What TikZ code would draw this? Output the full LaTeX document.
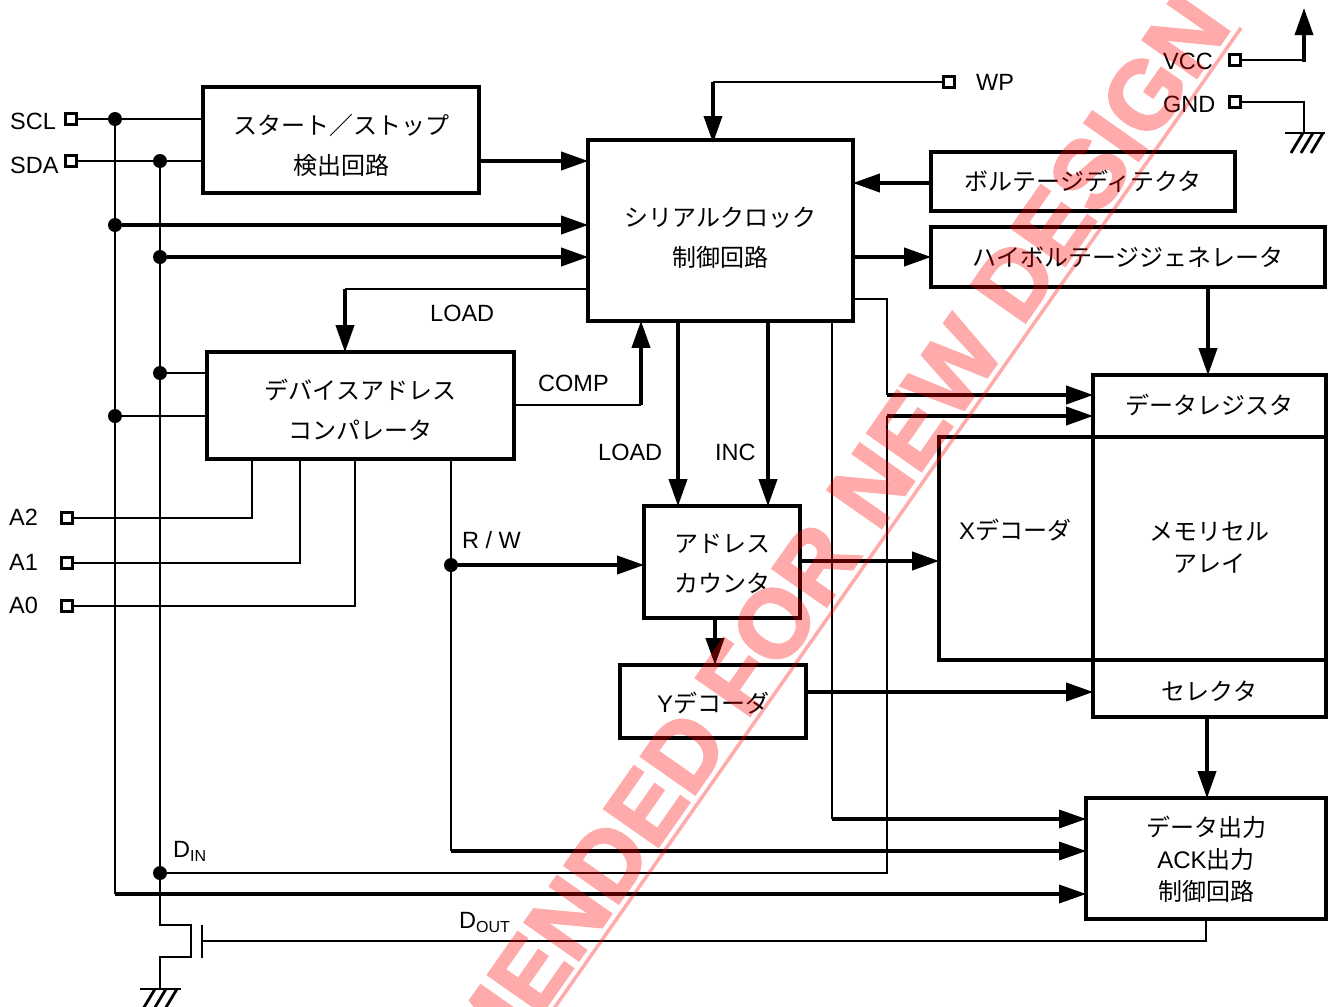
\documentclass[tikz,border=0pt]{standalone}
\usepackage{fontspec}
\setmainfont{Liberation Sans}
\newfontfamily\cjk{Noto Sans CJK JP}
\newfontfamily\wmfont[FakeBold=2.5]{Liberation Sans Bold}
\usetikzlibrary{arrows.meta,calc}
\tikzset{
  box/.style={draw,line width=3.6pt,line join=miter,inner sep=0pt,font=\fontsize{24}{40}\selectfont\cjk},
  thk/.style={line width=3.6pt,line join=miter},
  med/.style={line width=3.2pt,line join=miter},
  thn/.style={line width=2.8pt,line join=miter},
  tip/.style={-{Triangle[length=27pt,width=18pt]},shorten >=-2pt},
  pinbox/.style={draw,line width=2.8pt,minimum size=11pt,inner sep=0pt},
  dot/.style={circle,fill,minimum size=14pt,inner sep=0pt},
  lbl/.style={inner sep=0pt,anchor=west,font=\fontsize{23.5}{28}\selectfont},
  wm/.style={inner sep=0pt,text=red,font=\fontsize{96}{96}\selectfont\wmfont},
}
\newcommand{\subs}[1]{\raisebox{-4pt}{\fontsize{16}{16}\selectfont #1}}
% text moved down by half of #1 inside its box
\newcommand{\dn}[2]{\raisebox{0pt}[\dimexpr\height+#1\relax][\depth]{\begin{tabular}{@{}c@{}}#2\end{tabular}}}
\newcommand{\lat}[1]{{\fontspec{Liberation Sans}#1}}
\begin{document}
\begin{tikzpicture}[x=1pt,y=-1pt]
\path[use as bounding box] (0,0) rectangle (1334,1007);
\clip (0,0) rectangle (1334,1007);
% boxes
\node[box,minimum width=276pt,minimum height=106pt] (start) at (341,140) {\dn{12pt}{スタート／ストップ\\検出回路}};
\node[box,minimum width=265pt,minimum height=181pt] (serial) at (720.5,230.5) {\dn{16pt}{シリアルクロック\\制御回路}};
\node[box,minimum width=304pt,minimum height=59pt] (volt) at (1083,181.5) {ボルテージディテクタ};
\node[box,minimum width=394pt,minimum height=60pt] (hv) at (1128,257) {ハイボルテージジェネレータ};
\node[box,minimum width=307pt,minimum height=107pt] (dev) at (360.5,405.5) {\dn{11pt}{デバイスアドレス\\コンパレータ}};
\node[box,minimum width=156pt,minimum height=112pt] (cnt) at (722,562) {\dn{4pt}{アドレス\\カウンタ}};
\node[box,minimum width=186pt,minimum height=73pt] (ydec) at (713,701.5) {\dn{6pt}{\lat{Y}デコーダ}};
\node[box,minimum width=233pt,minimum height=62pt] (dreg) at (1209.5,406) {\raisebox{0pt}[\height][\dimexpr\depth+2pt\relax]{データレジスタ}};
\node[box,minimum width=154pt,minimum height=223pt] (xdec) at (1016,548.5) {};
\node[box,minimum width=233pt,minimum height=223pt] (mem) at (1209.5,548.5) {};
\node[box,minimum width=233pt,minimum height=57pt] (sel) at (1209.5,688.5) {\dn{8pt}{セレクタ}};
\node[box,minimum width=240pt,minimum height=121pt,font=\fontsize{24}{32}\selectfont\cjk] (out) at (1206,858.5) {\dn{8pt}{データ出力\\\lat{ACK}出力\\制御回路}};
\node[inner sep=0pt,font=\fontsize{24}{32}\selectfont\cjk] (xt) at (1015,530) {\lat{X}デコーダ};
\node[inner sep=0pt,align=center,font=\fontsize{24}{32}\selectfont\cjk] (mt) at (1209,548) {メモリセル\\アレイ};
% pins
\node[pinbox] (scl) at (71,119) {};
\node[pinbox] (sda) at (71,161) {};
\node[pinbox] (a2) at (67,518) {};
\node[pinbox] (a1) at (67,563) {};
\node[pinbox] (a0) at (67,606) {};
\node[pinbox] (wp) at (949,82) {};
\node[pinbox] (vcc) at (1235,60) {};
\node[pinbox] (gnd) at (1235,102) {};
% pin labels
\node[lbl] (tscl) at (10,121) {SCL};
\node[lbl] (tsda) at (10,165) {SDA};
\node[lbl] (ta2) at (9,517) {A2};
\node[lbl] (ta1) at (9,562) {A1};
\node[lbl] (ta0) at (9,605) {A0};
\node[lbl] (twp) at (976,82) {WP};
\node[lbl] (tvcc) at (1163,61) {VCC};
\node[lbl] (tgnd) at (1163,104) {GND};
\node[lbl] (tl1) at (430,313) {LOAD};
\node[lbl] (tcomp) at (538,383) {COMP};
\node[lbl] (tl2) at (598,452) {LOAD};
\node[lbl] (tinc) at (715,452) {INC};
\node[lbl] (trw) at (462,540) {R / W};
\node[lbl] (tdin) at (173,851) {D\subs{IN}};
\node[lbl] (tdout) at (459,922) {D\subs{OUT}};
% dots
\node[dot] (j1) at (115,119) {};
\node[dot] (j2) at (160,161) {};
\node[dot] (j3) at (115,225) {};
\node[dot] (j4) at (160,257) {};
\node[dot] (j5) at (160,373) {};
\node[dot] (j6) at (115,416) {};
\node[dot] (j7) at (160,873) {};
\node[dot] (j8) at (451,565) {};
% wires
\draw[thn] (scl) -- (start.west |- scl);
\draw[thn] (sda) -- (start.west |- sda);
\draw[thn] (j1) -- (115,894);
\draw[med,tip] (115,894) -- (out.west |- 0,894);
\draw[thn] (j2) -- (160,925) -- (191,925) -- (191,957) -- (160,957) -- (160,989);
\draw[thk,tip] (j3) -- (serial.west |- j3);
\draw[thk,tip] (j4) -- (serial.west |- j4);
\draw[thn] (j5) -- (dev.west |- j5);
\draw[thn] (j6) -- (dev.west |- j6);
\draw[thk,tip] (start.east |- 0,161) -- (serial.west |- 0,161);
\draw[thn] (wp) -- (713,82);
\draw[thk,tip] (713,82) -- (713,141);
\draw[thk,tip] (volt.west |- 0,183) -- (serial.east |- 0,183);
\draw[thk,tip] (serial.east |- 0,257) -- (hv.west |- 0,257);
\draw[thk,tip] (hv.south -| 1208,0) -- (dreg.north -| 1208,0);
\draw[thn] (serial.west |- 0,289) -- (345,289);
\draw[thk,tip] (345,289) -- (dev.north -| 345,0);
\draw[thn] (dev.east |- 0,405) -- (641,405);
\draw[thk,tip] (641,405) -- (serial.south -| 641,0);
\draw[thk,tip] (serial.south -| 678,0) -- (cnt.north -| 678,0);
\draw[thk,tip] (serial.south -| 768,0) -- (cnt.north -| 768,0);
\draw[thn] (serial.south -| 832,0) -- (832,819);
\draw[med,tip] (832,819) -- (out.west |- 0,819);
\draw[thn] (dev.south -| 451,0) -- (451,851);
\draw[med,tip] (451,851) -- (out.west |- 0,851);
\draw[thk,tip] (j8) -- (cnt.west |- j8);
\draw[thn] (a2) -- (252,518) -- (dev.south -| 252,0);
\draw[thn] (a1) -- (300,563) -- (dev.south -| 300,0);
\draw[thn] (a0) -- (355,606) -- (dev.south -| 355,0);
\draw[thk,tip] (cnt.east |- 0,561) -- (xdec.west |- 0,561);
\draw[thk,tip] (cnt.south -| 715,0) -- (ydec.north -| 715,0);
\draw[thk,tip] (ydec.east |- 0,692) -- (sel.west |- 0,692);
\draw[thk,tip] (sel.south -| 1207,0) -- (out.north -| 1207,0);
\draw[thn] (serial.east |- 0,299) -- (887,299) -- (887,395);
\draw[thk,tip] (887,395) -- (dreg.west |- 0,395);
\draw[thn] (j7) -- (887,873) -- (887,416);
\draw[thk,tip] (887,416) -- (dreg.west |- 0,416);
\draw[thn] (vcc) -- (1304,60);
\draw[thk,tip] (1304,61.5) -- (1304,10);
\draw[thn] (gnd) -- (1304,102) -- (1304,133);
\draw[thn] (1285,133) -- (1325,133);
\foreach \x in {1303,1313,1323} \draw[thn] (\x,133) -- (\x-12,153);
\draw[thn] (140,989) -- (181,989);
\foreach \x in {155,166,177} \draw[thn] (\x,989) -- (\x-12,1009);
\draw[thn] (202,925) -- (202,958);
\draw[thn] (202,941) -- (1206,941) -- (out.south -| 1206,0);
% watermark
\begin{scope}[transparency group,opacity=.33]
\node[wm,rotate=55,anchor=base east] (mark) at (1233,26) {MENDED FOR NEW DESIGN};
\draw[red,line width=3.5pt] (1241,28) -- (548,1017);
\end{scope}
\end{tikzpicture}
\end{document}
